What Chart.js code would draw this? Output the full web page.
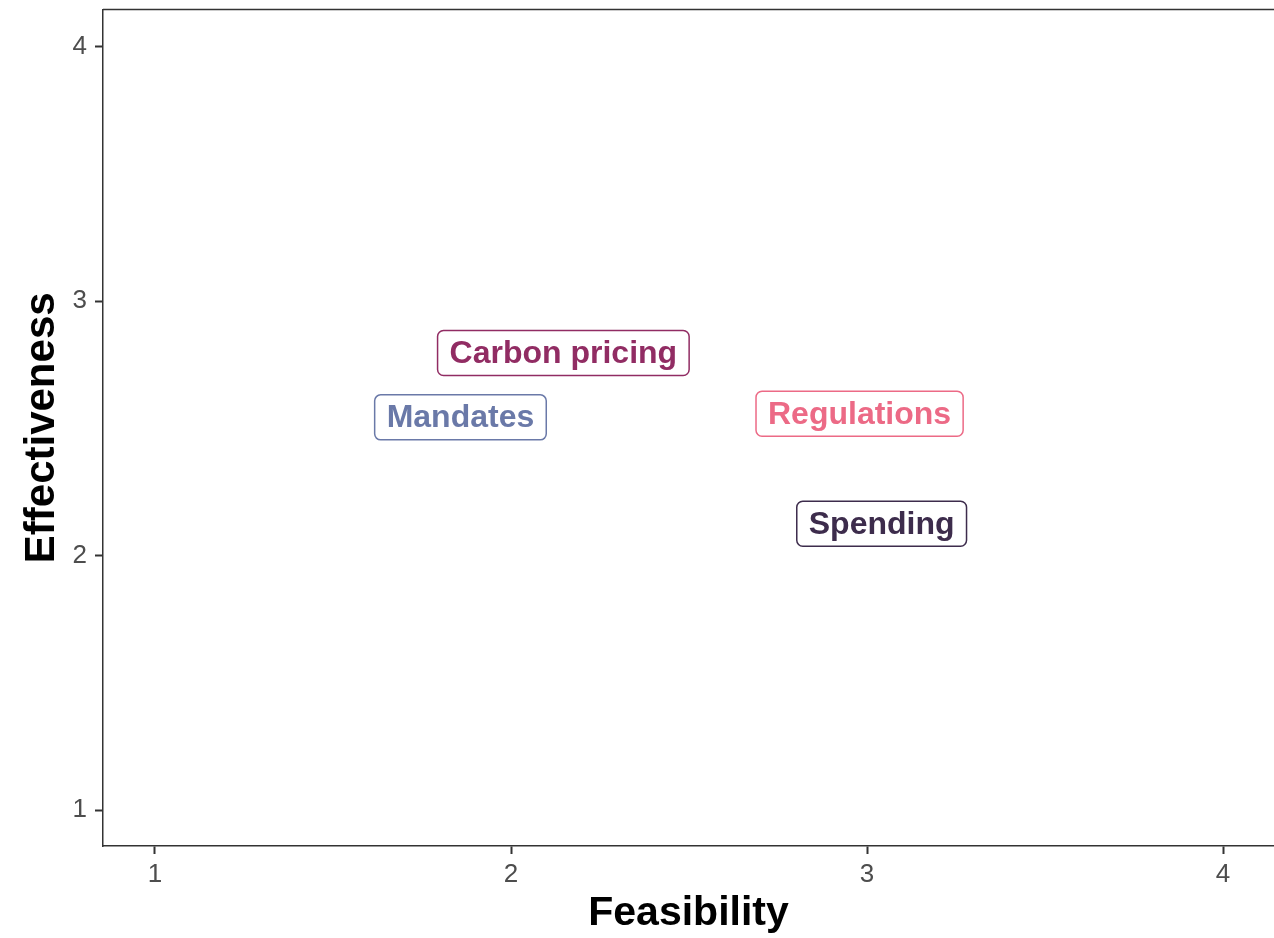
<!DOCTYPE html>
<html>
<head>
<meta charset="utf-8">
<script src="https://cdn.jsdelivr.net/npm/chart.js@4"></script>
<style>
  html, body { margin: 0; padding: 0; background: #fff; }
  #wrap { width: 1274px; height: 938px; position: relative; overflow: hidden; }
  #inner { position: absolute; left: 0; top: -14px; width: 1274px; height: 952px; }
</style>
</head>
<body>
<div id="wrap"><div id="inner"><canvas id="policyChart"></canvas></div></div>
<script>
// policy labels and their position on the two scales
const policies = ['Carbon pricing', 'Mandates', 'Regulations', 'Spending'];
const feasibility = [2.147, 1.858, 2.979, 3.041];
const effectiveness = [2.796, 2.543, 2.557, 2.125];
const labelColors = ['#912c63', '#6a79a8', '#ec6a86', '#3d2c4c'];
const xTicks = [1, 2, 3, 4];
const yTicks = [1, 2, 3, 4];

const FONT = '"Liberation Sans", Arial, Helvetica, sans-serif';

// draws the boxed text labels at each point
const boxLabels = {
    id: 'boxLabels',
    afterDatasetsDraw(chart) {
        const ctx = chart.ctx;
        const xs = chart.scales.x, ys = chart.scales.y;
        ctx.save();
        ctx.font = 'bold 32px ' + FONT;
        ctx.textAlign = 'center';
        ctx.textBaseline = 'middle';
        policies.forEach((name, i) => {
            const px = xs.getPixelForValue(feasibility[i]);
            const py = ys.getPixelForValue(effectiveness[i]);
            const w = ctx.measureText(name).width + 24;
            const h = 45;
            ctx.beginPath();
            ctx.roundRect(px - w / 2, py - h / 2, w, h, 6);
            ctx.fillStyle = '#fff';
            ctx.fill();
            ctx.lineWidth = 1.5;
            ctx.strokeStyle = labelColors[i];
            ctx.stroke();
            ctx.fillStyle = labelColors[i];
            ctx.fillText(name, px, py + 1);
        });
        ctx.restore();
    }
};

// top border of the panel
const topLine = {
    id: 'topLine',
    afterDraw(chart) {
        const a = chart.chartArea, ctx = chart.ctx;
        ctx.save();
        ctx.strokeStyle = '#333';
        ctx.lineWidth = 1.5;
        ctx.beginPath();
        ctx.moveTo(a.left, a.top);
        ctx.lineTo(a.right, a.top);
        ctx.stroke();
        ctx.restore();
    }
};

const ctx = document.getElementById('policyChart').getContext('2d');
new Chart(ctx, {
    type: 'scatter',
    data: {
        datasets: [{
            data: policies.map((p, i) => ({ x: feasibility[i], y: effectiveness[i] })),
            pointRadius: 0
        }]
    },
    options: {
        responsive: true,
        maintainAspectRatio: false,
        animation: false,
        layout: { padding: { top: 8, right: 0, left: 0, bottom: 0 } },
        plugins: {
            legend: { display: false },
            tooltip: { enabled: false }
        },
        scales: {
            x: {
                type: 'linear',
                min: 0.854,
                max: 4.143,
                afterBuildTicks: s => { s.ticks = xTicks.map(v => ({ value: v })); },
                afterFit: s => { s.height = 92; },
                ticks: {
                    color: '#4d4d4d',
                    font: { family: FONT, size: 26 },
                    padding: 5,
                    callback: v => String(v)
                },
                grid: {
                    drawOnChartArea: false,
                    tickLength: 8,
                    tickWidth: 2,
                    tickColor: '#333'
                },
                border: { color: '#333', width: 1.5 },
                title: {
                    display: true,
                    text: 'Feasibility',
                    color: '#000',
                    font: { family: FONT, size: 41, weight: 'bold' },
                    padding: { top: 4, bottom: 0 }
                }
            },
            y: {
                type: 'linear',
                min: 0.859,
                max: 4.145,
                afterBuildTicks: s => { s.ticks = yTicks.map(v => ({ value: v })); },
                afterFit: s => { s.width = 103; },
                ticks: {
                    color: '#4d4d4d',
                    font: { family: FONT, size: 26 },
                    padding: 8,
                    callback: v => String(v)
                },
                grid: {
                    drawOnChartArea: false,
                    tickLength: 8,
                    tickWidth: 2,
                    tickColor: '#333'
                },
                border: { color: '#333', width: 1.5 },
                title: {
                    display: true,
                    text: 'Effectiveness',
                    color: '#000',
                    font: { family: FONT, size: 42, weight: 'bold' },
                    padding: { top: 17, bottom: 0 }
                }
            }
        }
    },
    plugins: [boxLabels, topLine]
});
</script>
</body>
</html>
